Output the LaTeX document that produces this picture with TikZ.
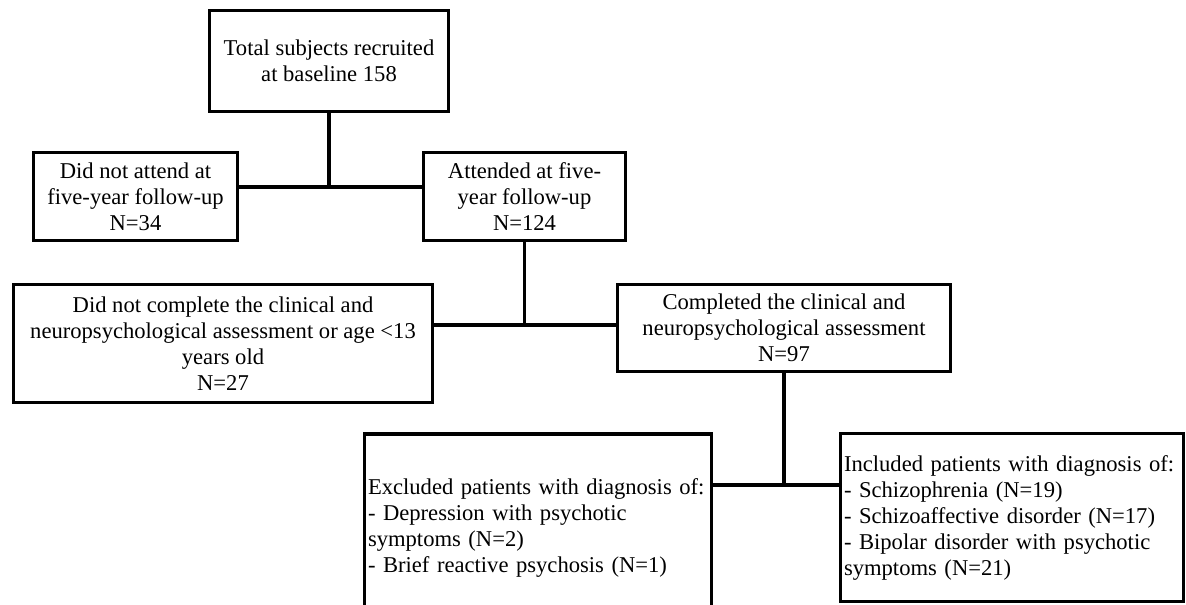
\documentclass[tikz,border=0pt]{standalone}
\usepackage{fontspec}
\setmainfont{Liberation Serif}
\begin{document}
\begin{tikzpicture}[x=0.5pt,y=-0.5pt,line width=1.6pt,
  box/.style={draw,rectangle,align=center,inner sep=2pt,font=\fontsize{11.3}{13}\selectfont},
  listbox/.style={box,align=left,text width=#1}]
\useasboundingbox (0,0) rectangle (1186,604);
\clip (0,0) rectangle (1186,604);
% first level
\node[box,minimum width=119.5pt,minimum height=50.5pt] (total) at (329,61) {Total subjects recruited\\at baseline 158};
\node[box,minimum width=102pt,minimum height=44pt] (noattend) at (135.5,196.5) {Did not attend at\\five-year follow-up\\N=34};
\node[box,minimum width=101pt,minimum height=44pt] (attend) at (524.5,196.5) {Attended at five-\\year follow-up\\N=124};
% second level
\node[box,minimum width=209.5pt,minimum height=59pt] (nocomplete) at (223,343.5) {Did not complete the clinical and\\neuropsychological assessment or age <13\\years old\\N=27};
\node[box,minimum width=166.5pt,minimum height=43.5pt] (complete) at (784,328) {Completed the clinical and\\neuropsychological assessment\\N=97};
% diagnoses
\node[listbox=170pt,inner xsep=1.75pt,minimum height=93.5pt] (excluded) at (538,527.5) {Excluded patients with diagnosis of:\\- Depression with psychotic\\symptoms (N=2)\\- Brief reactive psychosis (N=1)};
\node[listbox=168pt,inner xsep=1.75pt,minimum height=84pt] (included) at (1012,517.5) {Included patients with diagnosis of:\\- Schizophrenia (N=19)\\- Schizoaffective disorder (N=17)\\- Bipolar disorder with psychotic\\symptoms (N=21)};
% connectors
\coordinate (j1) at (329,187);
\coordinate (j2) at (524.5,325);
\coordinate (j3) at (784,485);
\draw (total) -- (j1);
\draw (noattend.east |- j1) -- (attend.west |- j1);
\draw (attend) -- (j2);
\draw (nocomplete.east |- j2) -- (complete.west |- j2);
\draw (complete) -- (j3);
\draw (excluded.east |- j3) -- (included.west |- j3);
\end{tikzpicture}
\end{document}
